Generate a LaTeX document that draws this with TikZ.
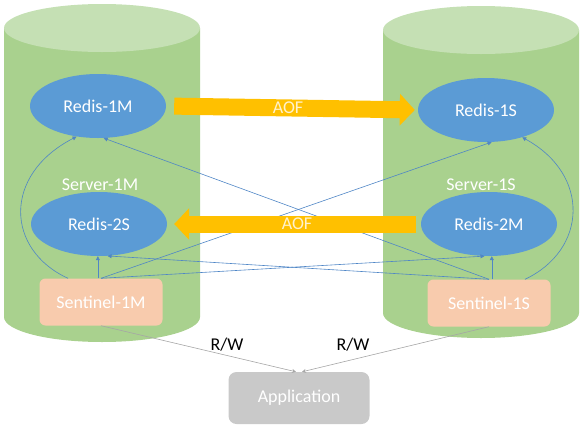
\documentclass[tikz,border=0pt]{standalone}
\usepackage{fontspec}
\setmainfont{Carlito}
\usetikzlibrary{arrows.meta,shapes.geometric}
\definecolor{cylgreen}{HTML}{A9D18E}
\definecolor{cyltop}{HTML}{C5E0B4}
\definecolor{redisblue}{HTML}{5B9BD5}
\definecolor{linkblue}{HTML}{4F86C6}
\definecolor{sentpeach}{HTML}{F8CBAD}
\definecolor{appgray}{HTML}{C9C9C9}
\definecolor{aoforange}{HTML}{FFC000}
\definecolor{aoftext}{HTML}{FFF2CC}
\definecolor{rwgray}{HTML}{A6A6A6}
\tikzset{
  every node/.style={font=\fontsize{18}{21}\selectfont},
  redis/.style={ellipse, fill=redisblue, text=white, minimum width=136pt,
    minimum height=64pt, inner sep=0pt},
  server/.style={text=white},
  sentinel/.style={rectangle, rounded corners=6pt, fill=sentpeach, text=white,
    minimum width=123pt, minimum height=47pt},
  appbox/.style={rectangle, rounded corners=8pt, fill=appgray, text=white,
    minimum width=141pt, minimum height=52pt},
  link/.style={draw=linkblue, line width=0.6pt, -{Triangle[length=4pt,width=4pt]}},
  rwlink/.style={draw=rwgray, line width=0.6pt, -{Stealth[length=4pt,width=4pt]}},
  aof/.style={draw=aoforange, line width=17pt, -{Triangle[length=15pt,width=31pt]}},
  aoflabel/.style={text=aoftext}
}
\begin{document}
\begin{tikzpicture}[x=1pt,y=-1pt]
  \useasboundingbox (0,0) rectangle (584,429);
  % servers
  \fill[cylgreen] (4,28) -- (4,317) arc[start angle=180, end angle=0, x radius=98, y radius=25] -- (200,28) -- cycle;
  \fill[cyltop] (102,28) ellipse [x radius=98, y radius=24];
  \fill[cylgreen] (383,30) -- (383,313) arc[start angle=180, end angle=0, x radius=98, y radius=25] -- (579,30) -- cycle;
  \fill[cyltop] (481,30) ellipse [x radius=98, y radius=24];

  \node[redis] (r1m) at (98,106) {Redis-1M};
  \node[redis] (r2s) at (99,224) {Redis-2S};
  \node[redis] (r1s) at (486,110) {Redis-1S};
  \node[redis] (r2m) at (489,224) {Redis-2M};
  \node[server] (srv1m) at (100,185) {Server-1M};
  \node[server] (srv1s) at (481,185) {Server-1S};
  \node[sentinel] (s1m) at (101,302) {Sentinel-1M};
  \node[sentinel] (s1s) at (489,303) {Sentinel-1S};
  \node[appbox] (app) at (299,398) {Application};
  \node (rw1) at (227,345) {R/W};
  \node (rw2) at (353,345) {R/W};

  % sentinels
  \draw[link] ([xshift=-33pt]s1m.north) .. controls (6,250) and (2,175) .. (r1m.235);
  \draw[link] (s1m.north -| r2s.268) -- (r2s.268);
  \draw[link] (s1m.north) -- (r1s.280);
  \draw[link] (s1m.north) -- (r2m.262);
  \draw[link] (s1s.north -| r2m.275) -- (r2m.275);
  \draw[link] ([xshift=36pt]s1s.north) .. controls (587,250) and (591,175) .. (r1s.323);
  \draw[link] (s1s.north) -- (r1m.280);
  \draw[link] (s1s.north) -- (r2s.285);

  % replication
  \draw[aof, shorten <=8pt, shorten >=3pt] (r1m.east) -- node[aoflabel, xshift=-4pt] {AOF} (r1s.west);
  \draw[aof, shorten <=5pt, shorten >=7pt] (r2m.west) -- node[aoflabel, xshift=3pt] {AOF} (r2s.east);

  % clients
  \draw[rwlink] (s1m.south) -- ([xshift=-3pt]app.north);
  \draw[rwlink] (s1s.south) -- ([xshift=3pt]app.north);
\end{tikzpicture}
\end{document}
